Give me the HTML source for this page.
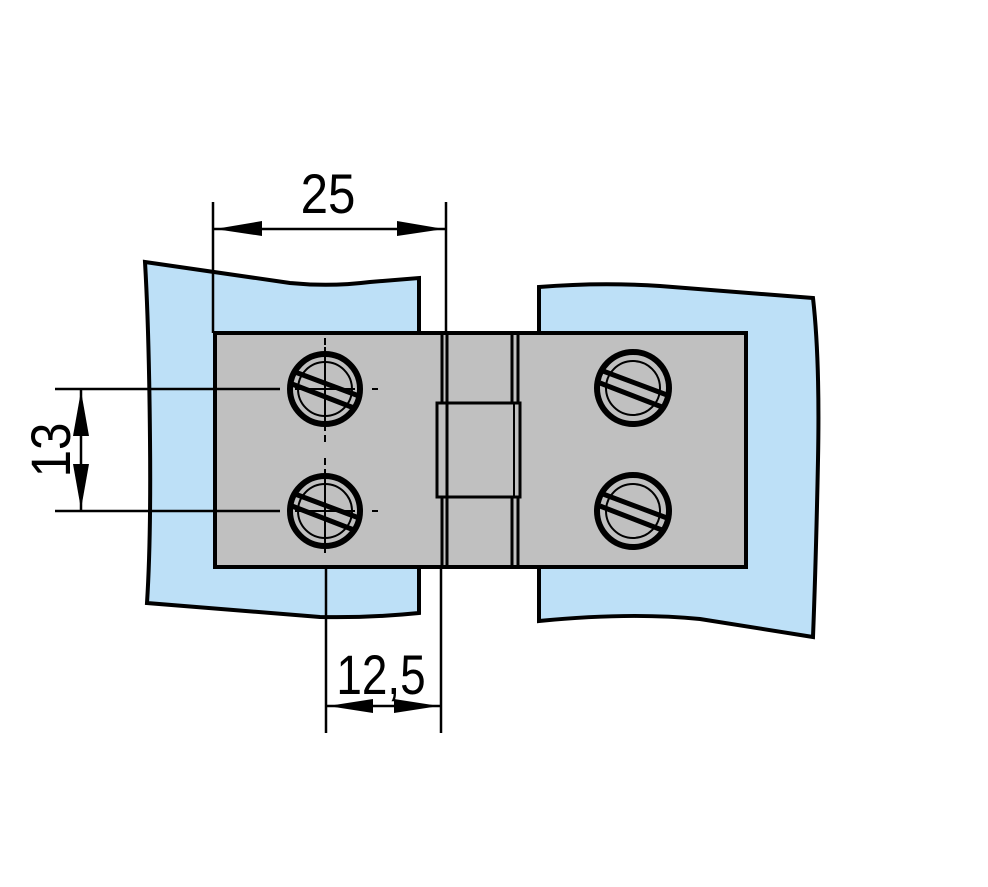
<!DOCTYPE html>
<html><head><meta charset="utf-8"><style>
html,body{margin:0;padding:0;background:#fff;width:988px;height:887px;overflow:hidden}
svg{display:block}
text{font-family:"Liberation Sans",Arial,sans-serif;fill:#000}
</style></head><body>
<svg width="988" height="887" viewBox="0 0 988 887" xmlns="http://www.w3.org/2000/svg">
<defs>
<g id="screwL">
  <circle r="35" fill="#c0c0c0" stroke="#000" stroke-width="6"/>
  <circle r="27" fill="none" stroke="#000" stroke-width="2"/>
  <line x1="0" y1="-42" x2="0" y2="42" stroke="#000" stroke-width="2"/>
  <line x1="-30" y1="0" x2="30" y2="0" stroke="#000" stroke-width="2"/>
  <line x1="-30" y1="-17" x2="34" y2="7" stroke="#000" stroke-width="5"/>
  <line x1="-33" y1="-5" x2="29" y2="19" stroke="#000" stroke-width="5"/>
</g>
<g id="screwR">
  <circle r="36" fill="#c0c0c0" stroke="#000" stroke-width="6"/>
  <circle r="27" fill="none" stroke="#000" stroke-width="2"/>
  <line x1="-30" y1="-17" x2="34" y2="7" stroke="#000" stroke-width="5"/>
  <line x1="-33" y1="-5" x2="29" y2="19" stroke="#000" stroke-width="5"/>
</g>
</defs>
<path d="M145,262 L290,283 Q330,287 370,282 L419,278 L419,613 Q370,618 320,617 L147,603 Q151,540 150,440 Q149,330 145,262 Z" fill="#bde0f7" stroke="#000" stroke-width="4"/>
<path d="M539,287 Q600,282 660,286 L813,298 Q820,360 818,460 Q816,560 813,637 L700,619 Q630,612 539,621 Z" fill="#bde0f7" stroke="#000" stroke-width="4"/>
<rect x="215" y="333" width="531" height="234" fill="#c0c0c0" stroke="#000" stroke-width="4"/>
<line x1="442" y1="333" x2="442" y2="567" stroke="#000" stroke-width="3"/>
<line x1="447" y1="333" x2="447" y2="567" stroke="#000" stroke-width="3"/>
<line x1="512" y1="333" x2="512" y2="567" stroke="#000" stroke-width="3"/>
<line x1="518" y1="333" x2="518" y2="567" stroke="#000" stroke-width="3"/>
<rect x="437" y="403" width="83" height="94" fill="#c0c0c0" stroke="#000" stroke-width="3"/>
<line x1="447" y1="403" x2="447" y2="497" stroke="#000" stroke-width="3"/>
<line x1="514" y1="403" x2="514" y2="497" stroke="#000" stroke-width="2"/>
<g stroke="#000" stroke-width="2">
<line x1="325" y1="338" x2="325" y2="345"/><line x1="325" y1="435" x2="325" y2="442"/>
<line x1="325" y1="458" x2="325" y2="465"/>
<line x1="372" y1="389" x2="378" y2="389"/><line x1="372" y1="511" x2="378" y2="511"/>
</g>
<use href="#screwL" x="325" y="389"/>
<use href="#screwL" x="325" y="511"/>
<use href="#screwR" x="633" y="388"/>
<use href="#screwR" x="633" y="511"/>
<g stroke="#000" stroke-width="2.5">
<line x1="213" y1="202" x2="213" y2="333"/>
<line x1="446" y1="202" x2="446" y2="333"/>
<line x1="213" y1="229" x2="446" y2="229"/>
<line x1="55" y1="389" x2="280" y2="389"/>
<line x1="55" y1="511" x2="280" y2="511"/>
<line x1="81" y1="389" x2="81" y2="511"/>
<line x1="326" y1="567" x2="326" y2="733"/>
<line x1="441" y1="567" x2="441" y2="733"/>
<line x1="326" y1="706" x2="441" y2="706"/>
</g>
<g fill="#000">
<polygon points="215,229 262,221 262,236"/>
<polygon points="444,229 397,221 397,236"/>
<polygon points="81,391 73,436 89,436"/>
<polygon points="81,509 73,464 89,464"/>
<polygon points="328,706 373,699 373,713"/>
<polygon points="439,706 394,699 394,713"/>
</g>
<text transform="translate(328,213) scale(0.88,1)" font-size="56" text-anchor="middle">25</text>
<text transform="translate(381,694) scale(0.82,1)" font-size="56" text-anchor="middle">12,5</text>
<text transform="translate(70,450) rotate(-90) scale(0.88,1)" font-size="56" text-anchor="middle">13</text>
</svg>
</body></html>
